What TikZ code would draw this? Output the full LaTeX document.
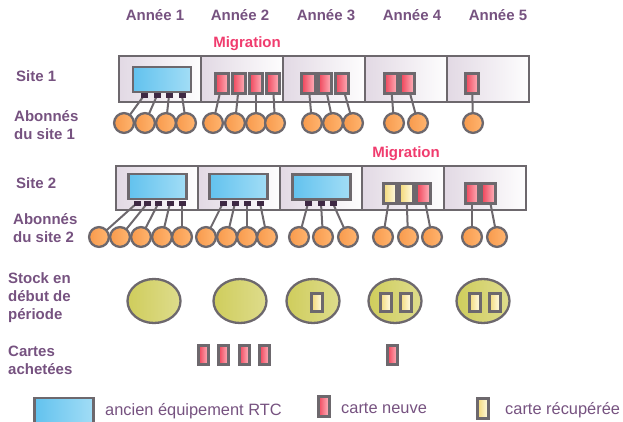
\documentclass[tikz,border=0pt]{standalone}
\usepackage{fontspec}
\setmainfont{Liberation Sans}
\usetikzlibrary{shapes.geometric}
\definecolor{frame}{HTML}{6D686D}
\definecolor{ink}{HTML}{765280}
\definecolor{mig}{HTML}{F03C6E}
\definecolor{portc}{HTML}{3E2843}
\definecolor{lav}{HTML}{E2D9E4}
\definecolor{sky}{HTML}{62C2EE}
\definecolor{skyl}{HTML}{A2DDF6}
\definecolor{cred}{HTML}{EF4258}
\definecolor{cpink}{HTML}{FFB6BF}
\definecolor{cyel}{HTML}{F3D877}
\definecolor{cyell}{HTML}{FFFCE8}
\definecolor{org}{HTML}{F89A4C}
\definecolor{orgl}{HTML}{FFB570}
\definecolor{olive}{HTML}{CFCD5C}
\definecolor{olivel}{HTML}{DEDC8C}
\pgfdeclarelayer{cells}
\pgfdeclarelayer{links}
\pgfsetlayers{cells,links,main}
\tikzset{
  lbl/.style={text=ink, font=\fontsize{15}{18}\selectfont\bfseries, inner sep=0pt},
  side/.style={lbl, anchor=west, align=left},
  miglbl/.style={text=mig, font=\fontsize{15}{18}\selectfont\bfseries, inner sep=0pt},
  legtxt/.style={text=ink, font=\fontsize{16.4}{19}\selectfont, inner sep=0pt, anchor=west},
  cell/.style={rectangle, draw=frame, line width=2.6pt, left color=lav, right color=white!96!lav,
    minimum width=82pt, inner sep=0pt, outer sep=0pt},
  screen/.style={rectangle, draw=frame, line width=2.8pt, left color=sky, right color=skyl,
    minimum width=58pt, minimum height=25pt, inner sep=0pt},
  port/.style={rectangle, fill=portc, minimum width=7pt, minimum height=5pt, inner sep=0pt},
  newcard/.style={rectangle, draw=frame, line width=3pt, left color=cred, right color=cpink,
    minimum width=13.5pt, minimum height=20pt, inner sep=0pt},
  oldcard/.style={rectangle, draw=frame, line width=3pt, left color=cyel, right color=cyell,
    minimum width=13.5pt, minimum height=20pt, inner sep=0pt},
  sub/.style={circle, draw=frame, line width=2.3pt, left color=org, right color=orgl,
    minimum size=19.8pt, inner sep=0pt},
  stock/.style={ellipse, draw=frame, line width=2.3pt, left color=olive, right color=olivel,
    minimum width=53pt, minimum height=44pt, inner sep=0pt},
  link/.style={draw=frame, line width=2pt},
}
\begin{document}
\begin{tikzpicture}[x=1pt,y=-1pt]
\useasboundingbox (0,0) rectangle (623,422);

% year headers
\foreach \i/\x in {1/155,2/240,3/326,4/412,5/498}
  \node[lbl] (yr\i) at (\x,15) {Année \i};

% row labels
\node[side] (l1) at (16,76) {Site 1};
\node[side] (l2) at (14,125) {Abonnés\\du site 1};
\node[side] (l3) at (16,183) {Site 2};
\node[side] (l4) at (13,228) {Abonnés\\du site 2};
\node[side] (l5) at (8,298) {Stock en\\début de\\période};
\node[side] (l6) at (8,360) {Cartes\\achetées};

% migration markers
\node[miglbl] (mig1) at (247,44) {Migration};
\node[miglbl] (mig2) at (406,154) {Migration};

% site cells
\begin{pgfonlayer}{cells}
\foreach \i/\x in {1/160,2/242,3/324,4/406,5/488}
  \node[cell, minimum height=46pt] (s1c\i) at (\x,79) {};
\foreach \i/\x in {1/157,2/239,3/321,4/403,5/485}
  \node[cell, minimum height=44pt] (s2c\i) at (\x,188) {};
\end{pgfonlayer}

% ---- site 1 ----
\node[screen] (s1scr1) at (162,79.5) {};
\foreach \k/\x in {1/144,2/157,3/169,4/182}
  \node[port] (s1c1p\k) at (\x,95.5) {};
\foreach \k/\x in {1/222,2/239,3/256,4/273}
  \node[newcard] (s1c2p\k) at (\x,84) {};
\foreach \k/\x in {1/308.5,2/325,3/342}
  \node[newcard] (s1c3p\k) at (\x,84) {};
\foreach \k/\x in {1/391,2/407.5}
  \node[newcard] (s1c4p\k) at (\x,84) {};
\node[newcard] (s1c5p1) at (472,84) {};

\foreach \k/\x in {1/124,2/145,3/166,4/186}
  \node[sub] (s1c1a\k) at (\x,123) {};
\foreach \k/\x in {1/213,2/235,3/256,4/275}
  \node[sub] (s1c2a\k) at (\x,123) {};
\foreach \k/\x in {1/312,2/333,3/353}
  \node[sub] (s1c3a\k) at (\x,123) {};
\foreach \k/\x in {1/394,2/418}
  \node[sub] (s1c4a\k) at (\x,123) {};
\node[sub] (s1c5a1) at (473,123) {};

% ---- site 2 ----
\node[screen] (s2scr1) at (157.5,186.5) {};
\node[screen] (s2scr2) at (238.5,186.5) {};
\node[screen] (s2scr3) at (321.5,187) {};
\foreach \k/\x in {1/137,2/147.5,3/158.5,4/170,5/182}
  \node[port] (s2c1p\k) at (\x,203) {};
\foreach \k/\x in {1/223,2/235,3/247,4/260}
  \node[port] (s2c2p\k) at (\x,203) {};
\foreach \k/\x in {1/308,2/321,3/333}
  \node[port] (s2c3p\k) at (\x,203.5) {};
\node[oldcard] (s2c4p1) at (390,193.5) {};
\node[oldcard] (s2c4p2) at (406.5,193.5) {};
\node[newcard] (s2c4p3) at (423.5,193.5) {};
\node[newcard] (s2c5p1) at (472,193.5) {};
\node[newcard] (s2c5p2) at (488.5,193.5) {};

\foreach \k/\x in {1/99,2/120,3/141,4/162,5/182}
  \node[sub] (s2c1a\k) at (\x,237) {};
\foreach \k/\x in {1/206,2/227,3/247,4/267}
  \node[sub] (s2c2a\k) at (\x,237) {};
\foreach \k/\x in {1/299,2/323,3/348}
  \node[sub] (s2c3a\k) at (\x,237) {};
\foreach \k/\x in {1/383,2/408,3/432}
  \node[sub] (s2c4a\k) at (\x,237) {};
\foreach \k/\x in {1/472,2/497}
  \node[sub] (s2c5a\k) at (\x,237) {};

% connections from ports and cards to subscribers
\begin{pgfonlayer}{links}
\foreach \c/\n in {1/4,2/4,3/3,4/2,5/1}
  \foreach \k in {1,...,\n}
    \draw[link] (s1c\c p\k.center) -- (s1c\c a\k.center);
\foreach \c/\n in {1/5,2/4,3/3,4/3,5/2}
  \foreach \k in {1,...,\n}
    \draw[link] (s2c\c p\k.center) -- (s2c\c a\k.center);
\end{pgfonlayer}

% stock at start of period
\foreach \i/\x in {1/154,2/240,3/313,4/395,5/483}
  \node[stock] (st\i) at (\x,301) {};
\node[oldcard, minimum width=11pt, minimum height=18pt] (st3k1) at (317,302) {};
\node[oldcard, minimum width=11pt, minimum height=18pt] (st4k1) at (385.5,302) {};
\node[oldcard, minimum width=11pt, minimum height=18pt] (st4k2) at (405.5,302) {};
\node[oldcard, minimum width=11pt, minimum height=18pt] (st5k1) at (474.5,302) {};
\node[oldcard, minimum width=11pt, minimum height=18pt] (st5k2) at (494.5,302) {};

% purchased cards
\foreach \k/\x in {1/203.5,2/223.5,3/244,4/264.5}
  \node[newcard, minimum width=10pt, minimum height=19pt] (buy2k\k) at (\x,355) {};
\node[newcard, minimum width=10pt, minimum height=19pt] (buy4k1) at (392.5,355) {};

% legend
\node[screen, minimum width=59pt, minimum height=28pt] (legscr) at (64,412) {};
\node[legtxt] (legscrt) at (105,411) {ancien équipement RTC};
\node[newcard, minimum width=11pt, minimum height=20pt] (legnew) at (323.5,406.5) {};
\node[legtxt] (legnewt) at (341,408) {carte neuve};
\node[oldcard, minimum width=11pt, minimum height=20pt] (legold) at (483,408) {};
\node[legtxt] (legoldt) at (505,410) {carte récupérée};
\end{tikzpicture}
\end{document}
